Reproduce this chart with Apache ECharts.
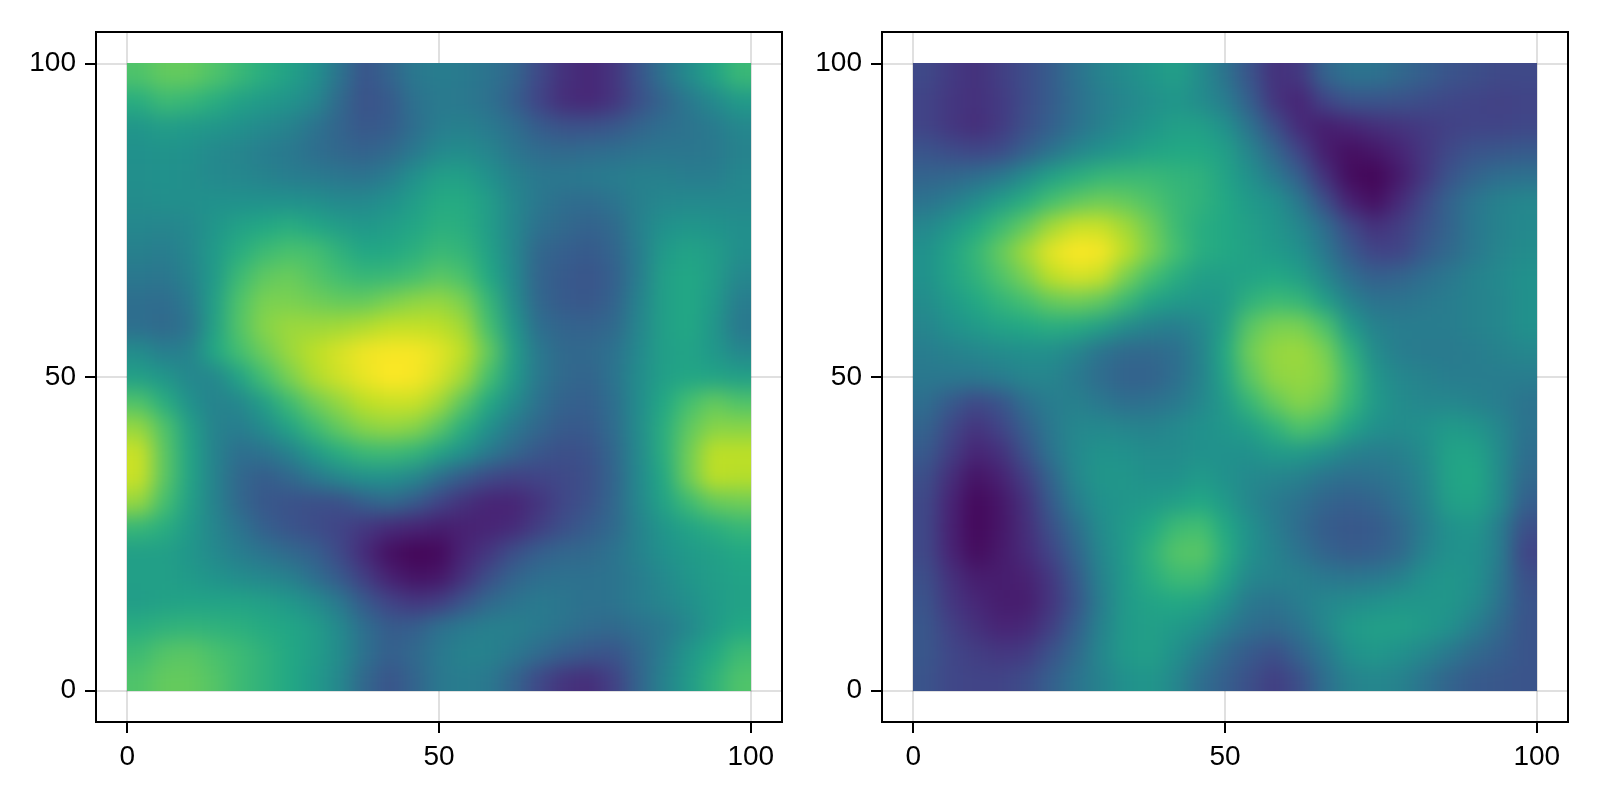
<!DOCTYPE html>
<html>
<head>
<meta charset="utf-8">
<title>heatmaps</title>
<style>
  html, body { margin: 0; padding: 0; background: #fff; }
  #chart { width: 1600px; height: 800px; }
</style>
<script src="https://cdn.jsdelivr.net/npm/echarts@6/dist/echarts.min.js"></script>
</head>
<body>
<div id="chart"></div>
<script>
// cell centres, same for both axes
const cellCenters = [2, 6, 10, 14, 18, 22, 26, 30, 34, 38, 42, 46, 50, 54, 58, 62, 66, 70, 74, 78, 82, 86, 90, 94, 98];
const rowCenters = [98, 94, 90, 86, 82, 78, 74, 70, 66, 62, 58, 54, 50, 46, 42, 38, 34, 30, 26, 22, 18, 14, 10, 6, 2];
const tickValues = [0, 50, 100];
const viridis = ['#440154', '#482475', '#414487', '#355f8d', '#2a788e', '#21918c', '#22a884', '#44bf70', '#7ad151', '#bddf26', '#fde725'];

// values, 0-100 along the colour scale, top row first
const leftValues = [
  [72,76,76,72,67,62,57,50,38,26,32,40,42,41,38,33,22,14,11,15,26,38,48,58,67],
  [62,68,66,62,57,54,51,46,34,25,28,37,41,40,37,30,20,13,11,15,24,32,40,47,54],
  [52,55,54,52,50,47,44,38,32,27,29,36,42,43,41,36,29,25,25,27,32,36,38,41,46],
  [50,51,50,47,45,42,40,36,33,31,34,40,47,48,45,39,35,34,35,36,38,39,39,40,44],
  [49,50,49,47,46,44,42,41,39,38,42,50,56,56,50,44,40,40,41,42,43,43,42,42,46],
  [48,49,49,50,50,50,50,49,47,47,50,55,61,61,55,46,40,36,35,38,43,46,47,47,47],
  [46,45,47,52,57,60,62,59,55,53,55,59,63,62,55,46,37,34,31,34,43,50,52,51,49],
  [43,42,46,54,62,68,71,70,64,59,60,63,67,65,57,46,33,30,28,32,42,54,58,55,49],
  [40,39,44,54,68,75,77,73,69,66,67,70,74,71,60,47,32,28,26,30,42,56,60,55,46],
  [36,35,41,56,72,80,80,78,76,76,80,83,84,80,66,48,33,28,27,31,44,56,60,54,42],
  [36,34,38,57,73,82,85,85,86,88,91,91,90,86,70,52,36,32,31,34,45,56,60,52,40],
  [48,42,44,60,70,78,85,90,94,98,99,99,96,90,76,55,40,34,34,37,47,56,58,53,46],
  [56,52,46,46,58,70,80,88,93,97,100,99,94,86,70,54,40,34,32,38,48,56,59,58,56],
  [72,62,50,44,46,56,68,78,84,90,92,92,86,74,60,48,37,31,30,36,48,60,70,76,72],
  [84,72,56,44,42,48,58,68,76,82,84,82,74,62,50,40,33,28,28,35,48,62,75,82,82],
  [92,74,58,44,36,38,44,54,62,67,68,65,58,50,41,33,27,24,25,33,47,62,78,90,90],
  [92,74,58,44,33,29,33,40,46,50,50,46,36,28,22,19,20,22,24,32,47,60,78,90,89],
  [84,70,56,44,33,27,25,24,24,30,34,28,20,14,10,10,15,21,25,33,46,58,68,76,78],
  [66,62,54,45,38,30,26,23,20,16,12,10,8,9,10,12,18,24,29,34,44,52,58,62,66],
  [56,56,52,47,42,38,34,30,22,12,4,1,2,10,16,24,30,33,34,38,44,50,54,56,60],
  [56,56,54,51,48,46,43,36,28,18,9,5,6,14,24,32,36,37,37,38,42,47,52,55,58],
  [55,57,58,58,58,56,53,48,40,28,20,16,18,26,34,38,41,39,37,38,42,45,49,54,57],
  [62,64,65,64,63,61,59,55,47,36,29,30,37,41,43,43,41,38,35,34,37,40,46,54,60],
  [68,73,74,71,68,64,60,55,48,37,30,34,40,44,44,40,35,30,27,26,33,42,52,60,68],
  [72,76,76,73,68,64,60,54,46,33,26,32,40,42,40,32,22,15,13,19,32,44,54,64,72]
];

const rightValues = [
  [22,17,14,18,23,29,37,44,48,52,56,48,38,26,14,16,32,38,38,34,30,26,24,22,22],
  [20,16,14,17,23,29,36,42,46,49,52,48,42,30,15,10,20,26,26,25,23,21,20,19,20],
  [20,16,13,17,24,30,37,43,48,52,56,56,50,38,24,12,8,10,13,15,17,19,20,20,21],
  [26,23,21,23,30,38,45,50,54,58,60,60,56,45,33,20,8,4,6,10,16,22,26,27,28],
  [32,33,36,40,48,57,62,66,67,67,65,64,58,50,41,30,14,3,1,7,16,26,32,36,37],
  [38,42,48,55,62,70,75,78,76,72,67,64,60,54,50,40,24,9,4,12,22,32,39,44,46],
  [46,52,60,68,76,86,92,92,86,78,68,62,60,56,52,46,36,22,14,18,25,32,40,44,47],
  [50,58,66,76,86,96,100,99,90,80,70,62,60,57,54,50,40,28,20,20,28,34,40,45,48],
  [50,58,64,72,80,90,94,92,80,70,62,56,56,58,60,56,46,36,30,32,36,40,44,47,50],
  [48,54,60,65,70,76,78,75,67,58,54,52,54,64,68,66,56,44,38,38,40,42,44,46,50],
  [45,50,54,58,60,62,61,56,48,44,42,46,56,74,80,80,72,54,44,42,42,42,44,46,50],
  [42,44,46,48,49,49,45,38,34,34,36,44,60,78,84,85,80,64,48,42,41,41,42,44,46],
  [40,40,40,42,45,45,41,35,31,31,36,44,58,74,83,84,82,68,52,46,44,42,42,42,42],
  [36,28,22,26,36,42,43,40,36,37,40,46,54,66,76,82,78,66,54,48,46,46,44,42,38],
  [32,22,15,20,30,40,46,47,45,44,47,50,52,56,64,72,68,58,50,48,50,54,52,46,38],
  [28,18,10,14,25,38,47,51,50,48,48,50,50,50,54,54,50,44,42,43,48,58,58,48,36],
  [24,13,5,9,18,32,46,52,52,50,50,54,50,47,45,43,38,36,37,40,46,58,60,48,34],
  [22,10,2,6,14,28,42,50,52,54,56,60,54,46,41,37,32,30,32,37,44,56,58,48,30],
  [22,9,2,6,13,24,36,48,54,60,68,70,60,50,42,35,29,27,28,33,42,50,52,42,24],
  [22,10,3,7,12,20,32,46,54,64,73,74,62,50,44,38,32,29,30,34,44,50,50,42,20],
  [24,14,8,8,9,16,28,44,54,62,68,68,58,46,44,43,40,39,40,43,50,52,50,40,24],
  [26,16,11,8,8,15,26,42,54,58,60,58,50,40,38,42,46,48,50,52,52,52,48,38,26],
  [27,19,14,10,11,18,30,44,54,56,54,50,42,36,34,38,46,54,56,56,54,50,42,34,26],
  [27,21,18,16,17,25,34,46,54,56,50,42,34,28,24,32,40,50,53,50,46,40,34,30,26],
  [26,21,20,20,23,30,38,44,50,52,46,36,30,24,18,24,36,44,46,44,38,32,28,27,26]
];

const cellSize = 4;
const edgeBleed = 5;      // outer cells reach past the domain so the blur has no pale rim
const blurPx = 10;
const fontFamily = '"Liberation Sans", Arial, sans-serif';

// turn rows into [x, y, value] triples
function toTriples(rows) {
  const out = [];
  rows.forEach((row, r) => {
    row.forEach((v, c) => {
      out.push([cellCenters[c], rowCenters[r], v]);
    });
  });
  return out;
}

function renderCell(params, api) {
  const x = api.value(0);
  const y = api.value(1);
  const half = cellSize / 2;
  const x0 = x === cellCenters[0] ? x - half - edgeBleed : x - half;
  const x1 = x === cellCenters[cellCenters.length - 1] ? x + half + edgeBleed : x + half;
  const y0 = y === rowCenters[rowCenters.length - 1] ? y - half - edgeBleed : y - half;
  const y1 = y === rowCenters[0] ? y + half + edgeBleed : y + half;
  const p0 = api.coord([x0, y1]);
  const p1 = api.coord([x1, y0]);
  const left = Math.round(p0[0]);
  const top = Math.round(p0[1]);
  return {
    type: 'rect',
    shape: { x: left, y: top, width: Math.round(p1[0]) - left, height: Math.round(p1[1]) - top },
    style: { fill: api.visual('color') }
  };
}

function makeAxis(index, margin) {
  return {
    type: 'value',
    gridIndex: index,
    min: -5,
    max: 105,
    axisLine: { show: false, onZero: false },
    axisTick: { show: true, length: 11, customValues: tickValues, lineStyle: { color: '#000', width: 2 } },
    axisLabel: { show: true, customValues: tickValues, margin: margin, color: '#000', fontSize: 28, fontFamily: fontFamily },
    splitLine: { show: true, lineStyle: { color: 'rgba(0,0,0,0.12)', width: 2 } }
  };
}

const chart = echarts.init(document.getElementById('chart'));

const option = {
  animation: false,
  backgroundColor: '#fff',
  grid: [
    { left: 96, top: 32, width: 686, height: 690, show: true, borderColor: '#000', borderWidth: 2, backgroundColor: 'transparent' },
    { left: 882, top: 32, width: 686, height: 690, show: true, borderColor: '#000', borderWidth: 2, backgroundColor: 'transparent' }
  ],
  xAxis: [makeAxis(0, 21), makeAxis(1, 21)],
  yAxis: [makeAxis(0, 20), makeAxis(1, 20)],
  visualMap: {
    show: false,
    min: 0,
    max: 100,
    dimension: 2,
    seriesIndex: [0, 1],
    inRange: { color: viridis }
  },
  series: [
    { type: 'custom', zlevel: 1, xAxisIndex: 0, yAxisIndex: 0, renderItem: renderCell, data: toTriples(leftValues), encode: { x: 0, y: 1 } },
    { type: 'custom', zlevel: 2, xAxisIndex: 1, yAxisIndex: 1, renderItem: renderCell, data: toTriples(rightValues), encode: { x: 0, y: 1 } }
  ]
};

chart.setOption(option);

// display only: each panel's cells sit on their own canvas, soften that canvas and trim it to the 0-100 square
function softenPanel(gridIndex) {
  const canvases = chart.getDom().querySelectorAll('canvas');
  const canvas = canvases[gridIndex + 1];
  if (!canvas) return;
  const a = chart.convertToPixel({ gridIndex: gridIndex }, [0, 100]);
  const b = chart.convertToPixel({ gridIndex: gridIndex }, [100, 0]);
  canvas.style.filter = 'blur(' + blurPx + 'px)';
  canvas.style.clipPath = 'inset(' + a[1] + 'px ' + (1600 - b[0]) + 'px ' + (800 - b[1]) + 'px ' + a[0] + 'px)';
}

function softenAll() {
  softenPanel(0);
  softenPanel(1);
}

softenAll();
chart.on('finished', softenAll);
requestAnimationFrame(softenAll);
</script>
</body>
</html>
